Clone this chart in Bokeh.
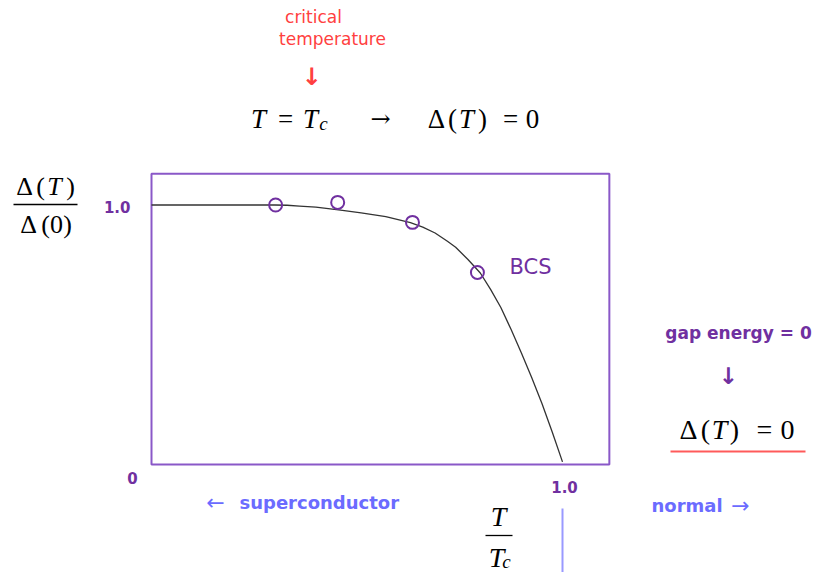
from bokeh.plotting import figure
from bokeh.models import Label, Range1d
from bokeh.embed import file_html
from bokeh.resources import INLINE

# ---- data ----
bcs_x = [0.0, 0.10, 0.20, 0.30, 0.33, 0.36, 0.40, 0.43, 0.46, 0.51, 0.57, 0.63, 0.66, 0.69, 0.72, 0.74, 0.77, 0.80, 0.825, 0.85, 0.875, 0.90, 0.925, 0.95, 0.975, 1.0]
bcs_y = [1.0, 1.0, 1.0, 1.0, 0.999, 0.996, 0.992, 0.986, 0.980, 0.970, 0.955, 0.932, 0.915, 0.892, 0.860, 0.837, 0.790, 0.738, 0.675, 0.605, 0.520, 0.430, 0.335, 0.235, 0.125, 0.010]
pts_x = [0.302, 0.453, 0.635, 0.793]
pts_y = [1.000, 1.010, 0.933, 0.740]
y_tick_labels = ["0", "1.0"]
x_tick_labels = ["1.0"]
x_max = 1.114
y_max = 1.12

# ---- picture geometry (picture pixel -> data) ----
W, H = 816, 572
XS, YS = 411.0, 259.5
X0, Y0 = 151.0, 464.0
def dx(X):
    return (X - X0) / XS
def dy(Y):
    return (Y0 - Y) / YS

PURPLE = "#7030a0"
FRAME = "#8a58c8"
BLUE = "#6b6bff"
RED = "#ff4040"

p = figure(width=W, height=H, output_backend="svg", toolbar_location=None,
           x_range=Range1d(dx(0), dx(W)), y_range=Range1d(dy(H), dy(0)),
           x_axis_location=None, y_axis_location=None, min_border=0,
           outline_line_color=None, background_fill_color="white")
p.grid.visible = False

# frame box
p.quad(left=[0], right=[x_max], bottom=[0], top=[y_max], fill_color=None,
       line_color=FRAME, line_width=2)
# BCS curve
p.line(bcs_x, bcs_y, line_color="#333333", line_width=1.3)
# data points
p.scatter(pts_x, pts_y, marker="circle", size=13, fill_color=None,
          line_color=PURPLE, line_width=2)

TY = -7  # text baseline correction

def lab(X, Y, s, size, color="black", font="Liberation Serif", style="normal",
        align="left", baseline="alphabetic"):
    p.add_layout(Label(x=dx(X), y=dy(Y + TY), text=s, text_font_size=f"{size}px",
                       text_color=color, text_font=font, text_font_style=style,
                       text_align=align, text_baseline=baseline))

SANS = "DejaVu Sans"

# tick labels
lab(130, 213, y_tick_labels[1], 15, PURPLE, SANS, "bold", "right")
lab(132, 484, y_tick_labels[0], 15, PURPLE, SANS, "bold", "center")
lab(564, 493, x_tick_labels[0], 15, PURPLE, SANS, "bold", "center")

# BCS label
lab(509, 273, "BCS", 21, PURPLE, SANS, "normal", "left")

# top annotation
lab(313, 23, "critical", 17, RED, SANS, "normal", "center")
lab(332, 45, "temperature", 17, RED, SANS, "normal", "center")
lab(311, 83, "↓", 24, RED, SANS, "bold", "center")

# T = T_c -> Δ(T) = 0
lab(258, 125, "T", 27, style="italic", align="center")
lab(285, 125, "=", 27, align="center")
lab(310, 125, "T", 27, style="italic", align="center")
lab(323, 130, "c", 19, style="italic", align="center")
lab(380, 125, "→", 24, font="DejaVu Serif", align="center")
lab(436, 125, "Δ", 27, align="center")
lab(452, 125, "(", 27, align="center")
lab(466, 125, "T", 27, style="italic", align="center")
lab(482, 125, ")", 27, align="center")
lab(510, 125, "=", 27, align="center")
lab(532, 125, "0", 27, align="center")

# left fraction Δ(T)/Δ(0)
lab(24, 193, "Δ", 26, align="center")
lab(40, 193, "(", 26, align="center")
lab(54, 193, "T", 26, style="italic", align="center")
lab(70, 193, ")", 26, align="center")
p.segment(x0=[dx(13)], y0=[dy(204)], x1=[dx(77)], y1=[dy(204)], line_color="black", line_width=1.3)
lab(28, 231, "Δ", 26, align="center")
lab(45, 231, "(", 26, align="center")
lab(56, 231, "0", 26, align="center")
lab(67, 231, ")", 26, align="center")

# bottom labels
lab(215, 509, "←", 22, BLUE, SANS, "normal", "center")
lab(239, 509, "superconductor", 18, BLUE, SANS, "bold", "left")
lab(651, 512, "normal", 18, BLUE, SANS, "bold", "left")
lab(740, 512, "→", 22, BLUE, SANS, "normal", "center")

# T/Tc fraction
lab(498, 523, "T", 28, style="italic", align="center")
p.segment(x0=[dx(485)], y0=[dy(535)], x1=[dx(512)], y1=[dy(535)], line_color="black", line_width=1.3)
lab(496, 564, "T", 28, style="italic", align="center")
lab(506, 568, "c", 19, style="italic", align="center")

# vertical blue marker at T/Tc = 1
p.segment(x0=[1.0], y0=[dy(508)], x1=[1.0], y1=[dy(572)], line_color="#9999ff", line_width=2)

# right annotation
lab(738, 339, "gap energy = 0", 17, PURPLE, SANS, "bold", "center")
lab(728, 382, "↓", 23, PURPLE, SANS, "bold", "center")
lab(688, 436, "Δ", 28, align="center")
lab(705, 436, "(", 28, align="center")
lab(719, 436, "T", 28, style="italic", align="center")
lab(734, 436, ")", 28, align="center")
lab(764, 436, "=", 28, align="center")
lab(787, 436, "0", 28, align="center")
p.segment(x0=[dx(670)], y0=[dy(451)], x1=[dx(805)], y1=[dy(451)], line_color="#ff5a5a", line_width=2)

open("out.html", "w").write(file_html(p, INLINE))
